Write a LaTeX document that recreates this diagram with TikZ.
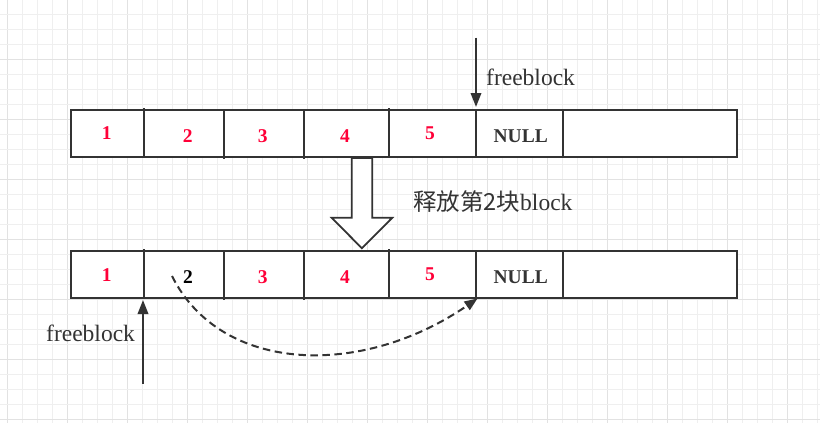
\documentclass[tikz,border=0pt]{standalone}
\usepackage{fontspec}
\setmainfont{Liberation Serif}
\newfontfamily\cjk{Noto Sans CJK SC}
\usetikzlibrary{arrows.meta}
\definecolor{lc}{HTML}{333333}
\definecolor{numred}{HTML}{FF0038}
\definecolor{gminor}{HTML}{EFEFEF}
\definecolor{gmajor}{HTML}{E2E2E2}
\tikzset{
  rowbox/.style={draw=lc, line width=2pt, fill=white},
  divider/.style={draw=lc, line width=2pt},
  num/.style={inner sep=0pt, text=numred, font=\fontsize{19.5}{23}\selectfont\bfseries},
  nulltxt/.style={inner sep=0pt, text=lc, font=\fontsize{19.5}{23}\selectfont\bfseries},
  blk/.style={inner sep=0pt, text=black, font=\fontsize{19.5}{23}\selectfont\bfseries},
  lbl/.style={inner sep=0pt, text=lc, anchor=base west, font=\fontsize{23.5}{28}\selectfont},
  ptr/.style={draw=lc, line width=2pt, -{Triangle[length=14pt,width=10.5pt]}},
  link/.style={draw=lc, line width=2pt, dash pattern=on 7.5pt off 4.5pt, -{Triangle[length=13pt,width=10pt]}},
  hollow/.style={draw=lc, line width=1.8pt, fill=white, line join=miter}
}
\begin{document}
\begin{tikzpicture}[x=1pt,y=-1pt]
\useasboundingbox (0,0) rectangle (820,423);
\fill[white] (0,0) rectangle (820,423);
% grid
\foreach \k in {0,...,54}{
  \pgfmathtruncatemacro{\m}{mod(\k,4)}
  \ifnum\m=0
    \draw[gmajor, line width=1pt] ({7+15*\k},0) -- ({7+15*\k},423);
  \else
    \draw[gminor, line width=1pt] ({7+15*\k},0) -- ({7+15*\k},423);
  \fi
}
\foreach \k in {0,...,28}{
  \pgfmathtruncatemacro{\m}{mod(\k,4)}
  \ifnum\m=0
    \draw[gmajor, line width=1pt] (0,{-1+15*\k}) -- (820,{-1+15*\k});
  \else
    \draw[gminor, line width=1pt] (0,{-1+15*\k}) -- (820,{-1+15*\k});
  \fi
}
% top row
\draw[rowbox] (71,110) rectangle (737,157);
\draw[divider] (144,108) -- (144,157);
\draw[divider] (224,110) -- (224,159);
\draw[divider] (304,110) -- (304,159);
\draw[divider] (389,108) -- (389,157);
\draw[divider] (476,110) -- (476,158);
\draw[divider] (563,110) -- (563,158);
\node[num] (t1) at (106.7,133) {1};
\node[num] (t2) at (187.7,136) {2};
\node[num] (t3) at (262.7,136) {3};
\node[num] (t4) at (345,136.5) {4};
\node[num] (t5) at (430,133) {5};
\node[nulltxt] (tn) at (520.7,136) {NULL};
% top pointer
\coordinate (tpa) at (476,37.5);
\coordinate (tpb) at (476,107);
\draw[ptr] (tpa) -- (tpb);
\node[lbl] (tfree) at (486,85) {freeblock};
% hollow arrow
\draw[hollow] (351.7,158) -- (372.3,158) -- (372.3,217.7) -- (392.3,217.7)
  -- (361.9,248.3) -- (331.7,217.7) -- (351.7,217.7) -- cycle;
\node[lbl] (rel) at (413,210) {{\cjk 释放第2块}block};
% bottom row
\draw[rowbox] (71,251) rectangle (737,298);
\draw[divider] (144,249.3) -- (144,298);
\draw[divider] (224,251) -- (224,299.5);
\draw[divider] (304,251) -- (304,299.5);
\draw[divider] (389,249.3) -- (389,298);
\draw[divider] (476,251) -- (476,298);
\draw[divider] (563,251) -- (563,298);
\node[num] (b1) at (106.7,275) {1};
\node[blk] (b2) at (188,277.3) {2};
\node[num] (b3) at (262.7,277.3) {3};
\node[num] (b4) at (345,277.3) {4};
\node[num] (b5) at (430,274) {5};
\node[nulltxt] (bn) at (520.7,277) {NULL};
% bottom pointer
\coordinate (bpa) at (143,383.5);
\coordinate (bpb) at (143,300);
\draw[ptr] (bpa) -- (bpb);
\node[lbl] (bfree) at (46,341.7) {freeblock};
% dashed link
\coordinate (cs) at (172,276);
\coordinate (ce) at (477.5,298.5);
\draw[link] (cs) .. controls (221,374) and (362,378) .. (ce);
\end{tikzpicture}
\end{document}
